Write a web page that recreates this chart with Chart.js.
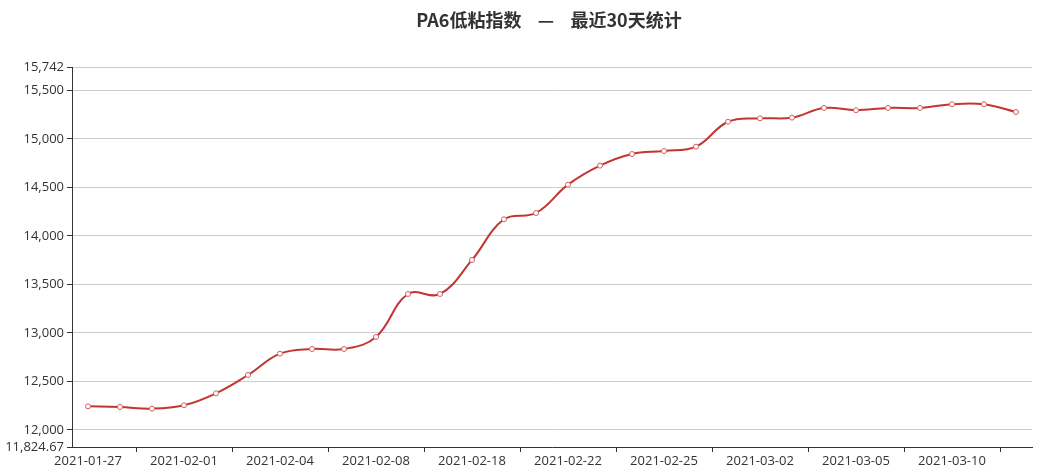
<!DOCTYPE html>
<html>
<head>
<meta charset="utf-8">
<script src="https://cdn.jsdelivr.net/npm/chart.js@4"></script>
<style>
  html, body { margin: 0; padding: 0; background: #fff; }
  #wrap { width: 1042px; height: 475px; position: relative; }
</style>
</head>
<body>
<div id="wrap"><canvas id="pa6Chart"></canvas></div>
<script>
const titleText = 'PA6低粘指数    —    最近30天统计';

const dates = [
    '2021-01-27', '2021-01-28', '2021-01-29', '2021-02-01', '2021-02-02', '2021-02-03',
    '2021-02-04', '2021-02-05', '2021-02-07', '2021-02-08', '2021-02-09', '2021-02-10',
    '2021-02-18', '2021-02-19', '2021-02-20', '2021-02-22', '2021-02-23', '2021-02-24',
    '2021-02-25', '2021-02-26', '2021-03-01', '2021-03-02', '2021-03-03', '2021-03-04',
    '2021-03-05', '2021-03-08', '2021-03-09', '2021-03-10', '2021-03-11', '2021-03-12'
];

const indexValues = [
    12244, 12237, 12220, 12255, 12378, 12567,
    12787, 12835, 12835, 12959, 13402, 13402,
    13753, 14172, 14237, 14529, 14725, 14845,
    14876, 14921, 15178, 15213, 15220, 15320,
    15296, 15320, 15320, 15358, 15358, 15278
];

const yMin = 11824.67;
const yMax = 15742;
const yTicks = [11824.67, 12000, 12500, 13000, 13500, 14000, 14500, 15000, 15500, 15742];

// draws the title where the original sits (slightly right of centre)
const titlePlugin = {
    id: 'titleAt',
    afterDraw(chart) {
        const ctx = chart.ctx;
        ctx.save();
        ctx.font = 'bold 18px "Noto Sans CJK SC", sans-serif';
        ctx.fillStyle = '#333';
        ctx.textAlign = 'center';
        ctx.textBaseline = 'middle';
        ctx.fillText(titleText, 549, 20);
        ctx.restore();
    }
};

const tickFont = { family: '"Open Sans", sans-serif', size: 13 };

const ctx = document.getElementById('pa6Chart').getContext('2d');
new Chart(ctx, {
    type: 'line',
    data: {
        labels: dates,
        datasets: [{
            label: 'PA6低粘指数',
            data: indexValues,
            borderColor: '#c23531',
            borderWidth: 2,
            tension: 0.4,
            pointRadius: 2.5,
            pointBorderWidth: 1,
            pointBackgroundColor: '#fff',
            pointBorderColor: '#d0605c',
            fill: false
        }]
    },
    options: {
        responsive: true,
        maintainAspectRatio: false,
        animation: false,
        layout: { padding: { top: 67, right: 10, left: 0, bottom: 0 } },
        plugins: {
            legend: { display: false },
            title: { display: false },
            tooltip: { enabled: false }
        },
        scales: {
            x: {
                offset: true,
                border: { color: '#333', width: 1 },
                grid: {
                    offset: true,
                    drawOnChartArea: false,
                    drawTicks: true,
                    tickLength: 5,
                    tickColor: (c) => (c.index % 3 === 2 ? '#333' : 'rgba(0,0,0,0)')
                },
                ticks: {
                    autoSkip: false,
                    maxRotation: 0,
                    padding: 1,
                    color: '#333',
                    font: tickFont,
                    callback: function (value, index) {
                        return index % 3 === 0 ? this.getLabelForValue(value) : '';
                    }
                },
                afterFit: (scale) => { scale.height = 28; }
            },
            y: {
                min: yMin,
                max: yMax,
                border: { color: '#333', width: 1 },
                grid: {
                    color: '#ccc',
                    tickColor: '#333',
                    tickLength: 5
                },
                ticks: {
                    padding: 3,
                    color: '#333',
                    font: tickFont,
                    callback: (v) => v.toLocaleString('en-US', { maximumFractionDigits: 2 })
                },
                afterBuildTicks: (scale) => {
                    scale.ticks = yTicks.map(v => ({ value: v }));
                },
                afterFit: (scale) => { scale.width = 72; }
            }
        }
    },
    plugins: [titlePlugin]
});
</script>
</body>
</html>
